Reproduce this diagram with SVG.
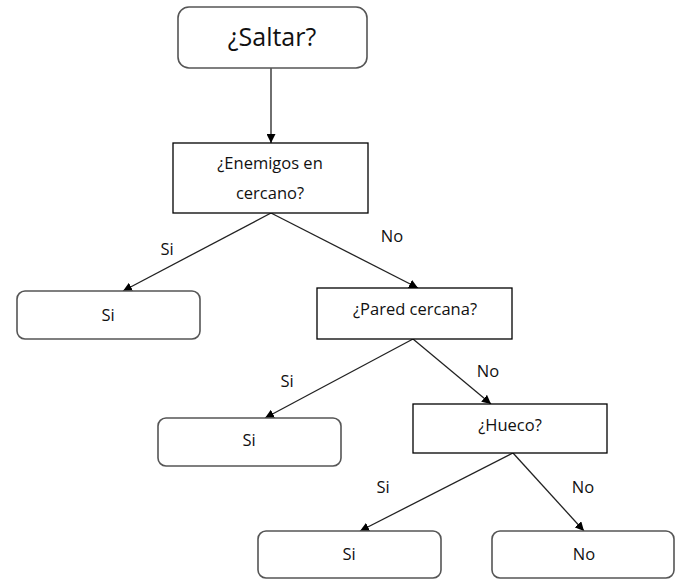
<svg xmlns="http://www.w3.org/2000/svg" width="679" height="584" viewBox="0 0 679 584">
<style>
.box{fill:#fff;stroke:#000;stroke-width:1.3}
.rbox{fill:#fff;stroke:#555;stroke-width:1.6}
.t{font-family:"Open Sans","Liberation Sans",sans-serif;font-size:16.5px;fill:#111;text-anchor:middle}
.big{font-size:25px}
.c{stroke:#222;stroke-width:1.3;fill:none;marker-end:url(#ah)}
</style>
<defs>
<marker id="ah" viewBox="0 0 10 10" refX="10" refY="5" markerWidth="9" markerHeight="9" markerUnits="userSpaceOnUse" orient="auto">
<path d="M0,0L10,5L0,10z" fill="#000"/>
</marker>
</defs>
<rect width="679" height="584" fill="#fff"/>
<g id="connectors">
<line class="c" x1="271" y1="68" x2="271" y2="143"/>
<line class="c" x1="271" y1="213" x2="123" y2="291"/>
<line class="c" x1="271" y1="213" x2="418" y2="288"/>
<line class="c" x1="413" y1="339" x2="265" y2="418"/>
<line class="c" x1="413" y1="339" x2="491" y2="404"/>
<line class="c" x1="513" y1="453" x2="360" y2="531"/>
<line class="c" x1="513" y1="453" x2="584" y2="531"/>
<text class="t" x="167" y="255">Si</text>
<text class="t" x="392" y="242">No</text>
<text class="t" x="287" y="387">Si</text>
<text class="t" x="488" y="377">No</text>
<text class="t" x="383" y="493">Si</text>
<text class="t" x="583" y="493">No</text>
</g>
<g id="saltar">
<rect class="rbox" x="178" y="7" width="189" height="61" rx="11"/>
<text class="t big" x="272" y="46">¿Saltar?</text>
</g>
<g id="enemigos">
<rect class="box" x="173" y="143" width="195" height="70"/>
<text class="t" x="270" y="169">¿Enemigos en</text>
<text class="t" x="270" y="199">cercano?</text>
</g>
<g id="si1">
<rect class="rbox" x="17" y="291" width="183" height="48" rx="8"/>
<text class="t" x="108" y="321">Si</text>
</g>
<g id="pared">
<rect class="box" x="317" y="288" width="195" height="51"/>
<text class="t" x="415" y="315">¿Pared cercana?</text>
</g>
<g id="si2">
<rect class="rbox" x="158" y="418" width="183" height="48" rx="8"/>
<text class="t" x="249" y="446">Si</text>
</g>
<g id="hueco">
<rect class="box" x="413" y="404" width="194" height="49"/>
<text class="t" x="510" y="431">¿Hueco?</text>
</g>
<g id="si3">
<rect class="rbox" x="258" y="531" width="183" height="47" rx="8"/>
<text class="t" x="349" y="560">Si</text>
</g>
<g id="no3">
<rect class="rbox" x="492" y="531" width="182" height="47" rx="8"/>
<text class="t" x="584" y="560">No</text>
</g>
</svg>
